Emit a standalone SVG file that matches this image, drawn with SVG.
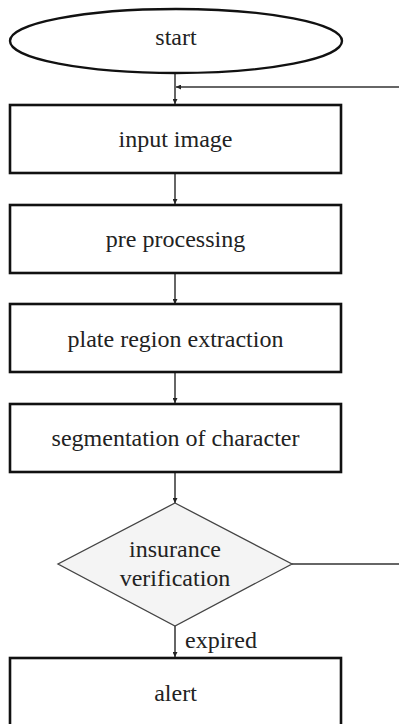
<svg xmlns="http://www.w3.org/2000/svg" width="399" height="724" viewBox="0 0 399 724">
<style>
.box{fill:#fff;stroke:#111;stroke-width:2.6}
.dia{fill:#f4f4f4;stroke:#444;stroke-width:1.3}
.lbl{font-family:"Liberation Serif","Times New Roman",serif;font-size:24px;fill:#222;text-anchor:middle}
.con{fill:none;stroke:#333;stroke-width:1.5}
</style>
<defs>
<marker id="ah" viewBox="0 0 10 10" refX="10" refY="5" markerWidth="5" markerHeight="5" orient="auto" markerUnits="userSpaceOnUse">
<path d="M0,0 L10,5 L0,10 z" fill="#222"/>
</marker>
</defs>
<rect width="399" height="724" fill="#fff"/>
<g id="connectors">
<line class="con" x1="175" y1="73" x2="175" y2="104" marker-end="url(#ah)"/>
<line class="con" x1="399" y1="87" x2="176" y2="87" marker-end="url(#ah)"/>
<line class="con" x1="175" y1="173" x2="175" y2="204" marker-end="url(#ah)"/>
<line class="con" x1="175" y1="273" x2="175" y2="304" marker-end="url(#ah)"/>
<line class="con" x1="175" y1="372" x2="175" y2="403" marker-end="url(#ah)"/>
<line class="con" x1="175" y1="472" x2="175" y2="503" marker-end="url(#ah)"/>
<line class="con" x1="175" y1="626" x2="175" y2="657" marker-end="url(#ah)"/>
<line class="con" x1="292" y1="564" x2="399" y2="564"/>
<text x="185" y="648" font-family="Liberation Serif, Times New Roman, serif" font-size="24" fill="#222">expired</text>
</g>
<g id="start">
<ellipse cx="176" cy="41" rx="166" ry="32" fill="#fff" stroke="#111" stroke-width="2.4"/>
<text class="lbl" x="176" y="45">start</text>
</g>
<g id="input-image">
<rect class="box" x="10" y="105" width="331" height="68"/>
<text class="lbl" x="175.5" y="147">input image</text>
</g>
<g id="pre-processing">
<rect class="box" x="10" y="205" width="331" height="68"/>
<text class="lbl" x="175.5" y="247">pre processing</text>
</g>
<g id="plate-region-extraction">
<rect class="box" x="10" y="304" width="331" height="68"/>
<text class="lbl" x="175.5" y="347">plate region extraction</text>
</g>
<g id="segmentation">
<rect class="box" x="10" y="404" width="331" height="68"/>
<text class="lbl" x="175.5" y="446">segmentation of character</text>
</g>
<g id="insurance-verification">
<polygon class="dia" points="175,503 292,564 175,626 58,564"/>
<text class="lbl" x="175" y="557">insurance</text>
<text class="lbl" x="175" y="586">verification</text>
</g>
<g id="alert">
<rect class="box" x="10" y="658" width="331" height="80"/>
<text class="lbl" x="175.5" y="701">alert</text>
</g>
</svg>
